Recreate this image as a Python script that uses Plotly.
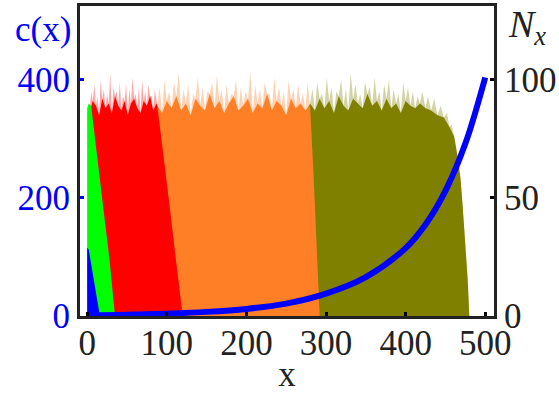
import plotly.graph_objects as go

# ---------------- data ----------------
# blue curve c(x) (left axis)
curve_x = [0, 50, 100, 150, 200, 250, 300, 350, 400, 425, 450, 475, 500]
curve_c = [1, 2, 4, 7, 12, 21, 38, 66, 115, 155, 212, 292, 404]

# histograms N_x (right axis): outline of each block
blue_x = [0, 0, 2, 6, 16]
blue_n = [0, 29, 28, 20, 0]

green_x = [0, 0, 2, 5, 12, 20, 28, 35]
green_n = [0, 88, 90, 89, 69, 47, 24, 0]

red_left_x = [1, 1]
red_left_n = [0, 86]
red_top_x = [3, 7, 11, 15, 19, 23, 27, 31, 35, 39, 43, 47, 51, 55, 59, 63, 67, 71, 75, 79, 83, 87]
red_top_n = [86, 91, 89, 85, 92, 88, 90, 86, 93, 89, 87, 91, 85, 90, 92, 88, 86, 91, 89, 93, 87, 90]
red_spike_x = [5, 9, 13, 17, 21, 25, 29, 33, 37, 41, 45, 49, 53, 57, 61, 65, 69, 73, 77, 81, 85]
red_spike_n = [95, 98, 93, 100, 96, 94, 103, 97, 95, 99, 93, 98, 96, 101, 94, 97, 100, 95, 98, 93, 96]
red_edge_x = [88, 96, 104, 112, 120]
red_edge_n = [89, 68, 45, 22, 0]

orange_left_x = [112, 85]
orange_left_n = [0, 88]
orange_top_x = [88, 94, 100, 106, 112, 118, 124, 130, 136, 142, 148, 154, 160, 166, 172, 178, 184,
                190, 196, 202, 208, 214, 220, 226, 232, 238, 244, 250, 256, 262, 268, 274, 279]
orange_top_n = [89, 86, 91, 88, 93, 87, 90, 85, 92, 89, 87, 94, 88, 91, 86, 90, 93, 87, 89, 92,
                86, 90, 88, 94, 87, 91, 89, 85, 92, 88, 90, 87, 89]
orange_spike_x = [91, 97, 103, 109, 115, 121, 127, 133, 139, 145, 151, 157, 163, 169, 175, 181,
                  187, 193, 199, 205, 211, 217, 223, 229, 235, 241, 247, 253, 259, 265, 271, 277]
orange_spike_n = [97, 100, 95, 99, 103, 96, 98, 94, 101, 97, 95, 99, 102, 96, 98, 94, 100, 97,
                  95, 103, 98, 96, 99, 94, 101, 97, 95, 100, 96, 98, 94, 99]
orange_edge_x = [280, 284, 288, 292]
orange_edge_n = [88, 62, 30, 0]

olive_left_x = [286, 277]
olive_left_n = [0, 88]
olive_top_x = [280, 286, 292, 298, 304, 310, 316, 322, 328, 334, 340, 346, 352, 358, 364, 370,
               376, 382, 388, 394, 400, 406, 412, 418]
olive_top_n = [90, 87, 92, 88, 91, 86, 93, 89, 87, 92, 90, 88, 94, 89, 91, 87, 92, 88, 90, 86,
               91, 89, 88, 90]
olive_spike_x = [283, 289, 295, 301, 307, 313, 319, 325, 331, 337, 343, 349, 355, 361, 367, 373,
                 379, 385, 391, 397, 403, 409, 415, 421, 428, 436, 444, 452, 458]
olive_spike_n = [96, 99, 94, 101, 97, 95, 100, 96, 103, 98, 94, 99, 97, 101, 95, 98, 100, 96,
                 94, 99, 97, 95, 93, 95, 93, 92, 89, 86, 81]
olive_edge_x = [425, 432, 440, 448, 455, 461, 465, 469, 472, 475, 478, 480]
olive_edge_n = [88, 87, 85, 84, 80, 76, 68, 58, 45, 30, 15, 0]

x_ticks = [0, 100, 200, 300, 400, 500]
c_ticks = [0, 200, 400]
n_ticks = [0, 50, 100]

# ---------------- colours / styles ----------------
C_BLUE = "#0000ff"
C_GREEN = "#00ff00"
C_RED = "#ff0000"
C_ORANGE = "#ff7f27"
C_OLIVE = "#808000"
FONT = "Liberation Serif"
AX = "#222222"
FS = 35

ML, MR, MT, MB = 80, 65, 6, 80
W, H = 559, 396

fig = go.Figure()


def poly(xs, ns, color, opacity=1.0):
    fig.add_trace(go.Scatter(x=xs, y=ns, mode="lines", fill="toself", fillcolor=color,
                             line=dict(width=0, color=color), opacity=opacity,
                             hoverinfo="skip", showlegend=False, yaxis="y"))


def block(left_x, left_n, top_x, top_n, spk_x, spk_n, edge_x, edge_n, color):
    # pale spikes
    pts = sorted(zip(top_x + spk_x + edge_x, top_n + spk_n + edge_n))
    sx = [pts[0][0]] + [p[0] for p in pts] + [pts[-1][0]]
    sn = [0] + [p[1] for p in pts] + [0]
    poly(sx, sn, color, 0.35)
    # solid body
    poly(left_x + top_x + edge_x, left_n + top_n + edge_n, color)


block(olive_left_x, olive_left_n, olive_top_x, olive_top_n, olive_spike_x, olive_spike_n,
      olive_edge_x, olive_edge_n, C_OLIVE)
block(orange_left_x, orange_left_n, orange_top_x, orange_top_n, orange_spike_x, orange_spike_n,
      orange_edge_x, orange_edge_n, C_ORANGE)
block(red_left_x, red_left_n, red_top_x, red_top_n, red_spike_x, red_spike_n,
      red_edge_x, red_edge_n, C_RED)
poly(green_x, green_n, C_GREEN)
poly(blue_x, blue_n, C_BLUE)

fig.add_trace(go.Scatter(x=curve_x, y=curve_c, mode="lines", yaxis="y2",
                         line=dict(color=C_BLUE, width=6, shape="spline"),
                         hoverinfo="skip", showlegend=False))

pw, ph = W - ML - MR, H - MT - MB


def px_to_paper(px, py):
    return (px - ML) / pw, (H - MB - py) / ph


cx, cy = px_to_paper(43, 29)
nx, ny = px_to_paper(527, 27)

fig.update_layout(
    width=W, height=H,
    margin=dict(l=ML, r=MR, t=MT, b=MB, autoexpand=False),
    plot_bgcolor="white", paper_bgcolor="white",
    font=dict(family=FONT, size=FS, color=AX),
    showlegend=False,
    xaxis=dict(range=[-9, 511], tickvals=x_ticks, ticks="inside", ticklen=4, tickwidth=3,
               tickcolor="black", showline=True, linewidth=3, linecolor=AX, mirror=True,
               showgrid=False, zeroline=False, automargin=False,
               ticklabelposition="outside", ticklabelstandoff=-6,
               tickfont=dict(family=FONT, size=FS, color=AX),
               title=dict(text="x", font=dict(family=FONT, size=FS, color=AX), standoff=0)),
    yaxis=dict(range=[0, 131.25], tickvals=n_ticks, side="right", ticks="inside", ticklen=4,
               tickwidth=3, tickcolor="black", showline=True, linewidth=3, linecolor=AX,
               showgrid=False, zeroline=False, automargin=False,
               tickfont=dict(family=FONT, size=FS, color=AX)),
    yaxis2=dict(range=[0, 525], tickvals=c_ticks, side="left", overlaying="y", ticks="inside",
                ticklen=4, tickwidth=3, tickcolor=C_BLUE, showline=True, linewidth=3,
                linecolor=AX, showgrid=False, zeroline=False, automargin=False,
                tickfont=dict(family=FONT, size=FS, color=C_BLUE)),
    annotations=[
        dict(text="c(x)", x=cx, y=cy, xref="paper", yref="paper", showarrow=False,
             xanchor="center", yanchor="middle",
             font=dict(family=FONT, size=FS, color=C_BLUE)),
        dict(text="<i>N<sub>x</sub></i>", x=nx, y=ny, xref="paper", yref="paper",
             showarrow=False, xanchor="center", yanchor="middle",
             font=dict(family=FONT, size=38, color=AX)),
    ],
)

fig.write_html("out.html")
